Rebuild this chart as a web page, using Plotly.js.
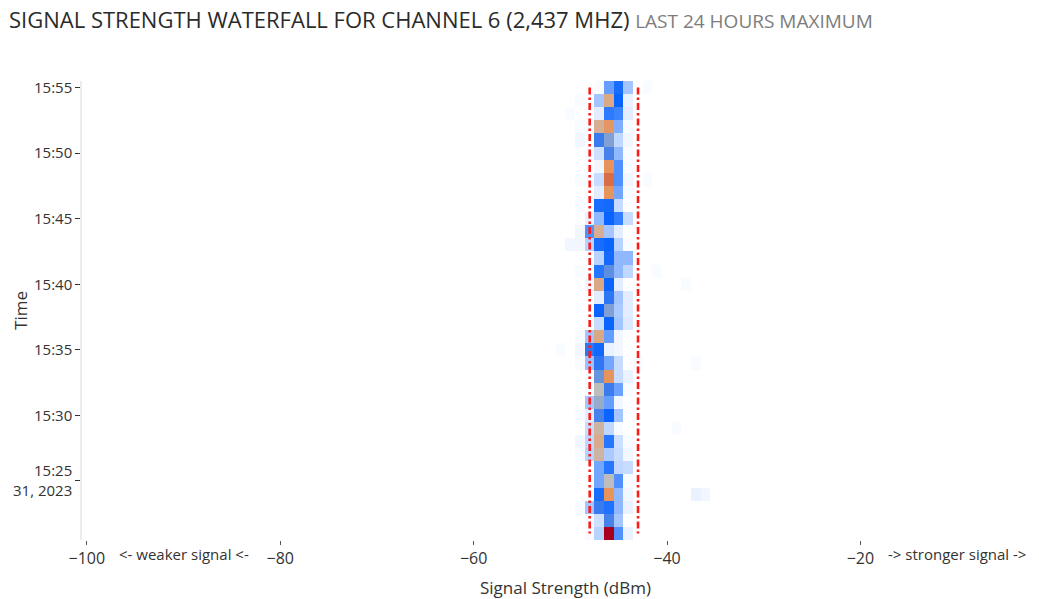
<!DOCTYPE html>
<html>
<head>
<meta charset="utf-8">
<script src="https://cdn.plot.ly/plotly-3.0.1.min.js"></script>
<style>html,body{margin:0;padding:0;background:#fff;overflow:hidden;}#chart{width:1049px;height:599px;}</style>
</head>
<body>
<div id="chart"></div>
<script>
// Signal strength bins (dBm), cell centres
const signalBins = [-52,-51,-50,-49,-48,-47,-46,-45,-44,-43,-42,-41,-40,-39,-38,-37,-36,-35];

// Time rows (one per minute), newest first
const times = [
  '2023-07-31 15:55','2023-07-31 15:54','2023-07-31 15:53','2023-07-31 15:52','2023-07-31 15:51',
  '2023-07-31 15:50','2023-07-31 15:49','2023-07-31 15:48','2023-07-31 15:47','2023-07-31 15:46',
  '2023-07-31 15:45','2023-07-31 15:44','2023-07-31 15:43','2023-07-31 15:42','2023-07-31 15:41',
  '2023-07-31 15:40','2023-07-31 15:39','2023-07-31 15:38','2023-07-31 15:37','2023-07-31 15:36',
  '2023-07-31 15:35','2023-07-31 15:34','2023-07-31 15:33','2023-07-31 15:32','2023-07-31 15:31',
  '2023-07-31 15:30','2023-07-31 15:29','2023-07-31 15:28','2023-07-31 15:27','2023-07-31 15:26',
  '2023-07-31 15:25','2023-07-31 15:24','2023-07-31 15:23','2023-07-31 15:22','2023-07-31 15:21'
];

// Intensity per cell (rows follow times, columns follow signalBins)
const intensity = [
  [0,0,0,0,0,1,22,33,13,0,1,0,0,0,0,0,0,0],
  [0,0,0,1,0,13,58,35,3,0,0,0,0,0,0,0,0,0],
  [0,0,1,0,0,4,30,28,4,0,0,0,0,0,0,0,0,0],
  [0,0,0,1,1,56,63,18,1,0,0,0,0,0,0,0,0,0],
  [0,0,0,2,0,39,45,9,2,0,0,0,0,0,0,0,0,0],
  [0,0,0,0,1,7,40,16,1,0,0,0,0,0,0,0,0,0],
  [0,0,0,0,0,2,64,25,1,0,0,0,0,0,0,0,0,0],
  [0,0,0,1,1,8,75,25,2,0,1,0,0,0,0,0,0,0],
  [0,0,0,0,0,4,64,20,1,0,0,0,0,0,0,0,0,0],
  [0,0,0,1,0,33,36,8,0,0,0,0,0,0,0,0,0,0],
  [0,0,0,0,3,16,35,29,8,0,0,0,0,0,0,0,0,0],
  [0,0,0,2,25,56,13,4,0,0,0,0,0,0,0,0,0,0],
  [0,0,2,2,10,33,35,10,1,0,0,0,0,0,0,0,0,0],
  [0,0,0,0,0,10,36,16,16,0,0,0,0,0,0,0,0,0],
  [0,0,0,1,0,31,42,16,9,0,0,1,0,0,0,0,0,0],
  [0,0,0,0,2,58,35,4,0,0,0,0,0,0,1,0,0,0],
  [0,0,0,0,0,4,38,13,4,0,0,0,0,0,0,0,0,0],
  [0,0,0,0,0,35,45,12,4,0,0,0,0,0,0,0,0,0],
  [0,0,0,0,0,8,35,13,5,0,0,0,0,0,0,0,0,0],
  [0,0,0,1,13,58,22,2,0,0,0,0,0,0,0,0,0,0],
  [0,1,0,2,38,34,3,2,0,0,0,0,0,0,0,0,0,0],
  [0,0,0,1,14,38,20,8,0,1,0,0,0,0,0,1,0,0],
  [0,0,0,0,1,43,64,8,3,0,0,0,0,0,0,0,0,0],
  [0,0,0,0,1,50,39,21,1,0,0,0,0,0,0,0,0,0],
  [0,0,0,0,13,47,22,2,0,0,0,0,0,0,0,0,0,0],
  [0,0,0,1,4,40,35,13,0,0,0,0,0,0,0,0,0,0],
  [0,0,0,0,8,54,9,1,0,0,0,0,0,1,0,0,0,0],
  [0,0,0,2,9,57,31,7,1,0,0,0,0,0,0,0,0,0],
  [0,0,0,1,10,54,12,8,2,0,0,0,0,0,0,0,0,0],
  [0,0,0,0,0,20,31,9,8,0,0,0,0,0,0,0,0,0],
  [0,0,0,0,0,20,50,25,1,0,0,0,0,0,0,0,0,0],
  [0,0,0,0,0,33,64,16,2,0,0,0,0,0,0,3,2,0],
  [0,0,0,1,13,39,32,16,3,0,0,0,0,0,0,0,0,0],
  [0,0,0,0,1,7,40,13,0,0,0,0,0,0,0,0,0,0],
  [0,0,0,0,1,10,100,25,3,0,0,0,0,0,0,0,0,0]
];

// Channel boundary markers (dBm)
const markerLeft = -48;
const markerRight = -43;

// Axis ticks
const xTickVals = [-100,-80,-60,-40,-20];
const yTickVals = ['2023-07-31 15:25','2023-07-31 15:30','2023-07-31 15:35','2023-07-31 15:40','2023-07-31 15:45','2023-07-31 15:50','2023-07-31 15:55'];
const yTickText = ['15:25<br>31, 2023','15:30','15:35','15:40','15:45','15:50','15:55'];

const FONT = "'Open Sans', sans-serif";
const FIG_W = 1049;

const heat = {
  type: 'heatmap',
  x: signalBins,
  y: times,
  z: intensity,
  zmin: 0, zmax: 100,
  showscale: false,
  colorscale: [
    [0, '#ffffff'],
    [0.35, '#0a64ff'],
    [0.5, '#bdbdbd'],
    [0.56, '#d5ae93'],
    [0.64, '#e6945c'],
    [0.78, '#d5623f'],
    [1, '#a8001a']
  ],
  hoverinfo: 'x+y+z'
};

const lineStyle = {color: '#ff1a1a', width: 2.6, dash: '7px,3px,2.5px,3px'};
const leftLine = {type: 'scatter', mode: 'lines', x: [markerLeft, markerLeft], y: [times[0], times[times.length-1]], line: lineStyle, hoverinfo: 'skip', showlegend: false};
const rightLine = {type: 'scatter', mode: 'lines', x: [markerRight, markerRight], y: [times[0], times[times.length-1]], line: lineStyle, hoverinfo: 'skip', showlegend: false};

const layout = {
  width: FIG_W, height: 599,
  margin: {l: 82, r: 0, t: 81, b: 59},
  paper_bgcolor: '#ffffff', plot_bgcolor: '#ffffff',
  font: {family: FONT, color: '#333', size: 15},
  showlegend: false,
  title: {
    text: 'SIGNAL STRENGTH WATERFALL FOR CHANNEL 6 (2,437 MHZ) <span style="font-size:19px;fill:#7d7d7d;color:#7d7d7d">LAST 24 HOURS MAXIMUM</span>',
    font: {family: FONT, size: 22, color: '#2b2b2b'},
    x: 9/FIG_W, xref: 'container', xanchor: 'left',
    y: 1 - 20/599, yref: 'container', yanchor: 'middle'
  },
  xaxis: {
    range: [-100.5, -0.5],
    tickvals: xTickVals,
    ticks: 'outside', ticklen: 4, tickcolor: '#555', tickwidth: 1,
    showgrid: false, zeroline: false, showline: false,
    tickfont: {size: 16, color: '#333'},
    title: {text: 'Signal Strength (dBm)', font: {size: 17, color: '#333'}, standoff: 18}
  },
  yaxis: {
    type: 'date',
    range: ['2023-07-31 15:20:30', '2023-07-31 15:55:30'],
    tickvals: yTickVals, ticktext: yTickText,
    ticks: 'outside', ticklen: 5, tickcolor: '#333', tickwidth: 1,
    showgrid: false, zeroline: false,
    showline: true, linecolor: '#ececec', linewidth: 1.5,
    tickfont: {size: 15, color: '#333'},
    title: {text: 'Time', font: {size: 17, color: '#333'}}
  },
  annotations: [
    {text: '<- weaker signal <-', x: -90, xref: 'x', y: -14/459, yref: 'paper', xanchor: 'center', yanchor: 'middle', showarrow: false, font: {size: 15, color: '#333'}},
    {text: '-> stronger signal ->', x: -10, xref: 'x', y: -14/459, yref: 'paper', xanchor: 'center', yanchor: 'middle', showarrow: false, font: {size: 15, color: '#333'}}
  ]
};

Plotly.newPlot('chart', [heat, leftLine, rightLine], layout, {displayModeBar: false, responsive: false});
</script>
</body>
</html>
